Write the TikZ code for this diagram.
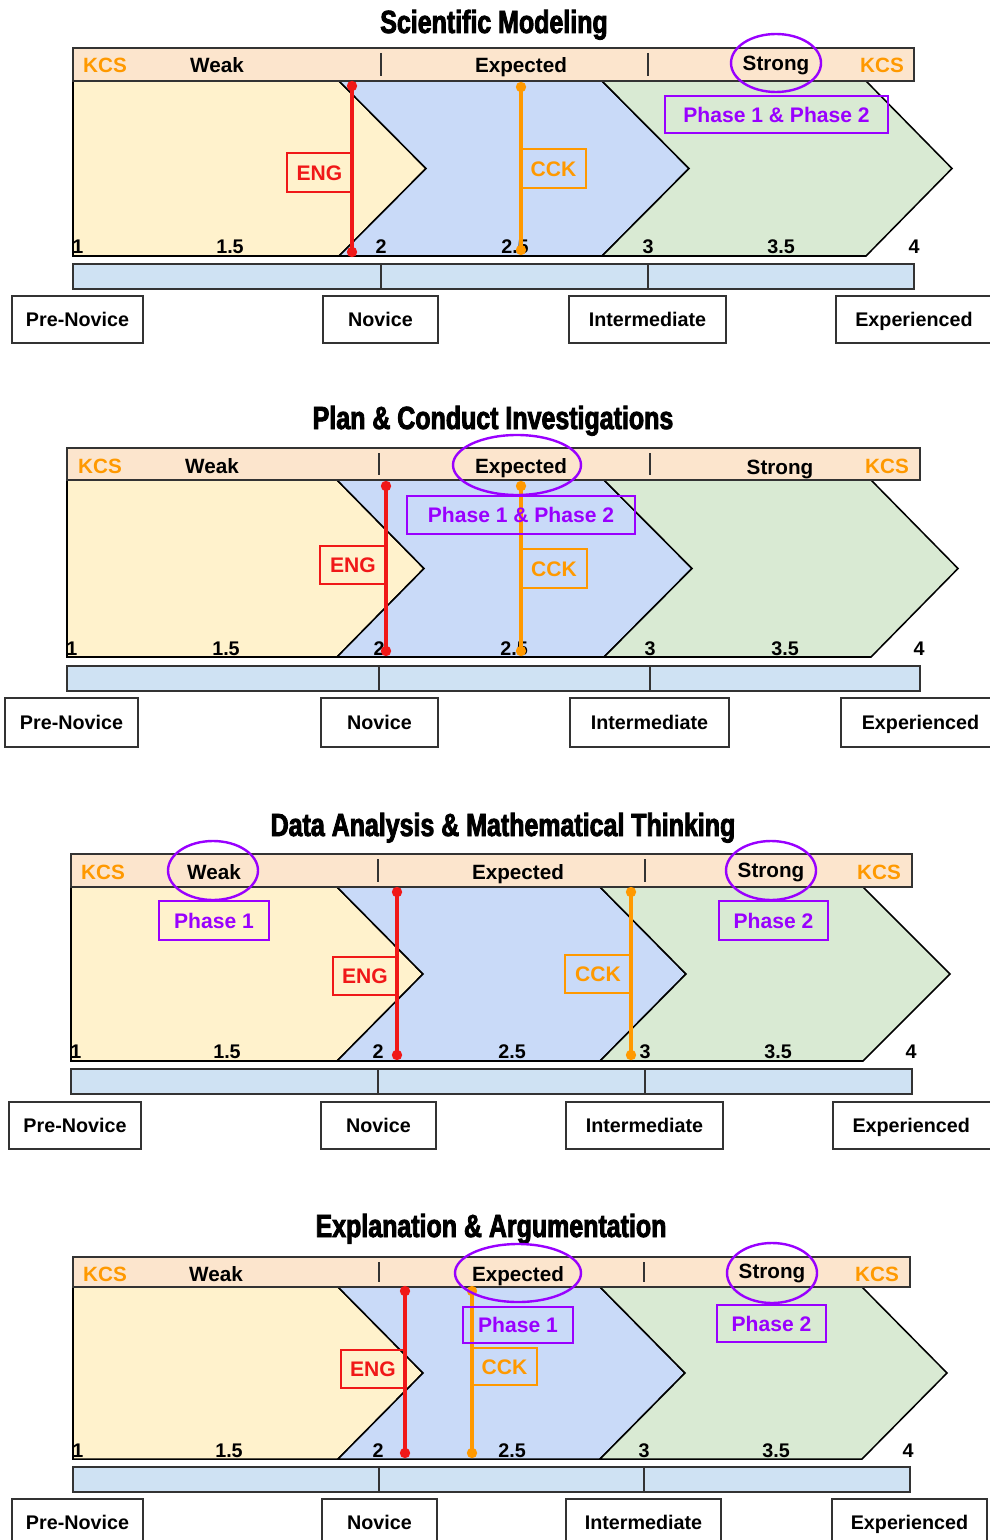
\documentclass[tikz,border=0pt]{standalone}
\usepackage{fontspec}
\setmainfont{Liberation Sans}
\newfontfamily\titlefont{Liberation Sans}[UprightFont={* Bold}, FakeStretch=0.78, FakeBold=2.6]

\definecolor{hdr}{HTML}{FCE5CD}
\definecolor{ylw}{HTML}{FFF2CC}
\definecolor{blu}{HTML}{C9DAF8}
\definecolor{grn}{HTML}{D9EAD3}
\definecolor{barblue}{HTML}{CFE2F3}
\definecolor{kcs}{HTML}{FF9900}
\definecolor{eng}{HTML}{F01818}
\definecolor{phs}{HTML}{9900FF}
\definecolor{edge}{HTML}{333333}

\tikzset{
  lbl/.style={font=\bfseries\fontsize{15.5pt}{18pt}\selectfont, inner sep=0pt, anchor=base},
  kcslbl/.style={lbl, text=kcs},
  num/.style={font=\bfseries\fontsize{14.8pt}{18pt}\selectfont, inner sep=0pt, anchor=base},
  titletext/.style={font=\titlefont\fontsize{24pt}{26pt}\selectfont, inner sep=0pt, anchor=base},
  hbar/.style={draw=edge, line width=1.5pt, fill=hdr},
  lbar/.style={draw=edge, line width=1.3pt, fill=barblue},
  divider/.style={draw=edge, line width=1.3pt},
  chev/.style={draw=black, line width=1.15pt},
  levelbox/.style={draw=edge, line width=1.2pt, fill=white, inner sep=0pt,
    font=\bfseries\fontsize{14.8pt}{18pt}\selectfont, text height=10.6pt, text depth=0pt},
  tagbox/.style={draw, line width=1.3pt, inner sep=0pt,
    font=\bfseries\fontsize{15.8pt}{18pt}\selectfont, text height=11.3pt, text depth=0pt},
  engtag/.style={tagbox, draw=eng, text=eng},
  ccktag/.style={tagbox, draw=kcs, text=kcs},
  phasetag/.style={tagbox, draw=phs, text=phs},
  mline/.style={line width=2.3pt},
  ring/.style={draw=phs, line width=1.8pt},
}

% box node spanning the corners (#3,#4) and (#5,#6)
\newcommand\spanbox[7]{%
  \node[#1, minimum width={(#5-#3)*0.75pt}, minimum height={(#6-#4)*0.75pt}]
    (#2) at ({(#3+#5)/2},{(#4+#6)/2}) {#7};}

% three chevrons: left, top, bottom, yellow edge/tip, blue edge/tip, green edge/tip
\newcommand\chevrons[9]{%
  \pgfmathsetmacro\chmid{(#2+#3)/2}%
  \filldraw[chev, fill=ylw] (#1,#2) -- (#4,#2) -- (#5,\chmid) -- (#4,#3) -- (#1,#3) -- cycle;
  \filldraw[chev, fill=blu] (#4,#2) -- (#6,#2) -- (#7,\chmid) -- (#6,#3) -- (#4,#3) -- (#5,\chmid) -- cycle;
  \filldraw[chev, fill=grn] (#6,#2) -- (#8,#2) -- (#9,\chmid) -- (#8,#3) -- (#6,#3) -- (#7,\chmid) -- cycle;}

% vertical marker with end dots: name, x, top y, bottom y, colour
\newcommand\marker[5]{%
  \coordinate (#1T) at (#2,#3);
  \coordinate (#1B) at (#2,#4);
  \draw[mline, #5] (#1T) -- (#1B);
  \fill[#5] (#1T) circle[radius=3.9pt];
  \fill[#5] (#1B) circle[radius=3.9pt];}

\begin{document}
\begin{tikzpicture}[x=0.75pt, y=-0.75pt]
\useasboundingbox (0,0) rectangle (989,1540);

% ---------------- Scientific Modeling ----------------
\node[titletext] (t1) at (494,33) {Scientific Modeling};
\chevrons{73}{81}{256}{339}{426}{602}{689}{866}{952}
\spanbox{hbar}{p1hdr}{73}{48}{914}{81}{}
\draw[divider] (381,53) -- (381,76);
\draw[divider] (648,53) -- (648,76);
\node[kcslbl] (p1kl) at (105,73) {KCS};
\node[lbl] (p1w) at (217,73) {Weak};
\node[lbl] (p1e) at (521,73) {Expected};
\node[lbl] (p1s) at (776,71) {Strong};
\node[kcslbl] (p1kr) at (882,73) {KCS};
\node[num, anchor=base west] (p1n10) at (72,254) {1};
\node[num] (p1n15) at (230,254) {1.5};
\node[num] (p1n20) at (381,254) {2};
\node[num] (p1n25) at (515,254) {2.5};
\node[num] (p1n30) at (648,254) {3};
\node[num] (p1n35) at (781,254) {3.5};
\node[num] (p1n40) at (914,254) {4};
\spanbox{lbar}{p1bar}{73}{264}{914}{289}{}
\draw[divider] (381,264) -- (381,289);
\draw[divider] (648,264) -- (648,289);
\spanbox{levelbox}{p1pre}{12}{296}{143}{343}{Pre-Novice}
\spanbox{levelbox}{p1nov}{323}{296}{438}{343}{Novice}
\spanbox{levelbox}{p1int}{569}{296}{726}{343}{Intermediate}
\spanbox{levelbox}{p1exp}{836}{296}{1000}{343}{\hspace*{-6pt}Experienced}
\marker{p1eng}{352}{86}{252}{eng}
\marker{p1cck}{521}{87}{250}{kcs}
\spanbox{engtag}{p1engbox}{287}{153}{352}{192}{ENG}
\spanbox{ccktag}{p1cckbox}{521}{149}{586}{188}{CCK}
\spanbox{phasetag}{p1ph}{665}{96}{888}{133}{Phase 1 \& Phase 2}
\draw[ring] (776,63) ellipse [x radius=45, y radius=29];

% ---------------- Plan & Conduct Investigations ----------------
\node[titletext] (t2) at (493,429) {Plan \& Conduct Investigations};
\chevrons{67}{480}{657}{337}{424}{604}{692}{871}{958}
\spanbox{hbar}{p2hdr}{67}{448}{920}{480}{}
\draw[divider] (379,453) -- (379,475);
\draw[divider] (650,453) -- (650,475);
\node[kcslbl] (p2kl) at (100,473) {KCS};
\node[lbl] (p2w) at (212,473) {Weak};
\node[lbl] (p2e) at (521,473) {Expected};
\node[lbl] (p2s) at (780,474) {Strong};
\node[kcslbl] (p2kr) at (887,473) {KCS};
\node[num, anchor=base west] (p2n10) at (66,655) {1};
\node[num] (p2n15) at (226,655) {1.5};
\node[num] (p2n20) at (379,655) {2};
\node[num] (p2n25) at (514,655) {2.5};
\node[num] (p2n30) at (650,655) {3};
\node[num] (p2n35) at (785,655) {3.5};
\node[num] (p2n40) at (919,655) {4};
\spanbox{lbar}{p2bar}{67}{666}{920}{691}{}
\draw[divider] (379,666) -- (379,691);
\draw[divider] (650,666) -- (650,691);
\spanbox{levelbox}{p2pre}{5}{698}{138}{747}{Pre-Novice}
\spanbox{levelbox}{p2nov}{321}{698}{438}{747}{Novice}
\spanbox{levelbox}{p2int}{570}{698}{729}{747}{Intermediate}
\spanbox{levelbox}{p2exp}{841}{698}{1000}{747}{Experienced}
\marker{p2eng}{386}{486}{651}{eng}
\marker{p2cck}{521}{486}{651}{kcs}
\spanbox{engtag}{p2engbox}{320}{546}{386}{584}{ENG}
\spanbox{ccktag}{p2cckbox}{521}{549}{587}{588}{CCK}
\spanbox{phasetag}{p2ph}{407}{496}{635}{534}{Phase 1 \& Phase 2}
\draw[ring] (517,465) ellipse [x radius=64, y radius=30];

% ---------------- Data Analysis & Mathematical Thinking ----------------
\node[titletext] (t3) at (503,836) {Data Analysis \& Mathematical Thinking};
\chevrons{71}{887}{1061}{337}{423}{600}{686}{863}{950}
\spanbox{hbar}{p3hdr}{71}{854}{912}{887}{}
\draw[divider] (378,859) -- (378,882);
\draw[divider] (645,859) -- (645,882);
\node[kcslbl] (p3kl) at (103,879) {KCS};
\node[lbl] (p3w) at (214,879) {Weak};
\node[lbl] (p3e) at (518,879) {Expected};
\node[lbl] (p3s) at (771,877) {Strong};
\node[kcslbl] (p3kr) at (879,879) {KCS};
\node[num, anchor=base west] (p3n10) at (70,1058) {1};
\node[num] (p3n15) at (227,1058) {1.5};
\node[num] (p3n20) at (378,1058) {2};
\node[num] (p3n25) at (512,1058) {2.5};
\node[num] (p3n30) at (645,1058) {3};
\node[num] (p3n35) at (778,1058) {3.5};
\node[num] (p3n40) at (911,1058) {4};
\spanbox{lbar}{p3bar}{71}{1069}{912}{1094}{}
\draw[divider] (378,1069) -- (378,1094);
\draw[divider] (645,1069) -- (645,1094);
\spanbox{levelbox}{p3pre}{9}{1102}{141}{1149}{Pre-Novice}
\spanbox{levelbox}{p3nov}{321}{1102}{436}{1149}{Novice}
\spanbox{levelbox}{p3int}{566}{1102}{723}{1149}{Intermediate}
\spanbox{levelbox}{p3exp}{833}{1102}{1000}{1149}{\hspace*{-8pt}Experienced}
\marker{p3eng}{397}{892}{1055}{eng}
\marker{p3cck}{631}{892}{1055}{kcs}
\spanbox{engtag}{p3engbox}{333}{957}{397}{995}{ENG}
\spanbox{ccktag}{p3cckbox}{565}{955}{631}{993}{CCK}
\spanbox{phasetag}{p3ph1}{159}{901}{269}{940}{Phase 1}
\spanbox{phasetag}{p3ph2}{719}{901}{828}{940}{Phase 2}
\draw[ring] (213,870.5) ellipse [x radius=45, y radius=29.5];
\draw[ring] (771,870.5) ellipse [x radius=45, y radius=29.5];

% ---------------- Explanation & Argumentation ----------------
\node[titletext] (t4) at (491,1237) {Explanation \& Argumentation};
\chevrons{73}{1287}{1459}{338}{423}{600}{685}{862}{947}
\spanbox{hbar}{p4hdr}{73}{1257}{910}{1287}{}
\draw[divider] (379,1262) -- (379,1282);
\draw[divider] (644,1262) -- (644,1282);
\node[kcslbl] (p4kl) at (105,1281) {KCS};
\node[lbl] (p4w) at (216,1281) {Weak};
\node[lbl] (p4e) at (518,1281) {Expected};
\node[lbl] (p4s) at (772,1278) {Strong};
\node[kcslbl] (p4kr) at (877,1281) {KCS};
\node[num, anchor=base west] (p4n10) at (72,1457) {1};
\node[num] (p4n15) at (229,1457) {1.5};
\node[num] (p4n20) at (378,1457) {2};
\node[num] (p4n25) at (512,1457) {2.5};
\node[num] (p4n30) at (644,1457) {3};
\node[num] (p4n35) at (776,1457) {3.5};
\node[num] (p4n40) at (908,1457) {4};
\spanbox{lbar}{p4bar}{73}{1467}{910}{1492}{}
\draw[divider] (379,1467) -- (379,1492);
\draw[divider] (644,1467) -- (644,1492);
\spanbox{levelbox}{p4pre}{12}{1499}{143}{1546}{Pre-Novice}
\spanbox{levelbox}{p4nov}{322}{1499}{437}{1546}{Novice}
\spanbox{levelbox}{p4int}{566}{1499}{721}{1546}{Intermediate}
\spanbox{levelbox}{p4exp}{832}{1499}{987}{1546}{Experienced}
\marker{p4eng}{405}{1291}{1453}{eng}
\marker{p4cck}{472}{1291}{1453}{kcs}
\spanbox{engtag}{p4engbox}{341}{1350}{405}{1388}{ENG}
\spanbox{ccktag}{p4cckbox}{472}{1348}{537}{1385}{CCK}
\spanbox{phasetag}{p4ph1}{463}{1307}{573}{1343}{Phase 1}
\spanbox{phasetag}{p4ph2}{717}{1305}{826}{1342}{Phase 2}
\draw[ring] (518,1273) ellipse [x radius=63, y radius=29];
\draw[ring] (772,1273) ellipse [x radius=45, y radius=30];
\end{tikzpicture}
\end{document}
